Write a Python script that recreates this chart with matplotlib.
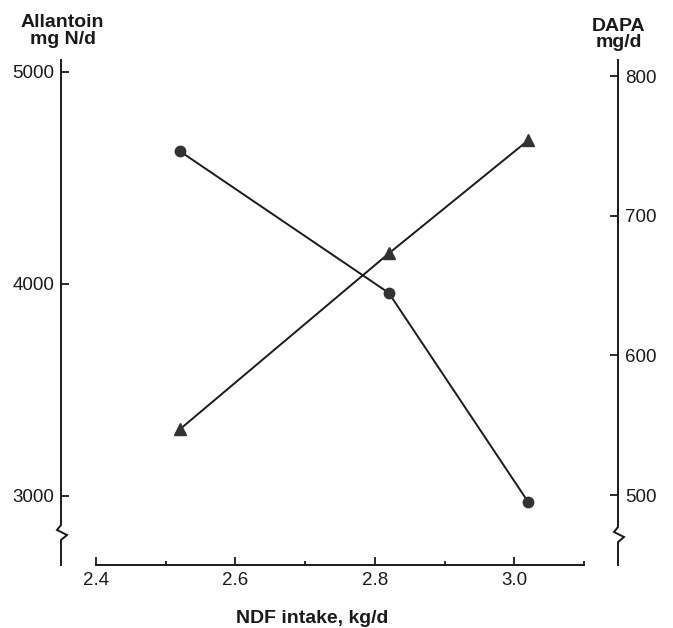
import numpy as np
import matplotlib.pyplot as plt

plt.rcParams['font.family'] = ['Liberation Sans', 'DejaVu Sans']

# data
ndf = [2.52, 2.82, 3.02]
allantoin = [4627, 3958, 2972]      # mg N/d, circles, left axis
dapa_x = [2.52, 2.82, 3.02]
dapa = [547, 673, 754]              # mg/d, triangles, right axis

x_ticks = [2.4, 2.6, 2.8, 3.0]
x_minor = [2.5, 2.7, 2.9]
left_ticks = [3000, 4000, 5000]
right_ticks = [500, 600, 700, 800]

W, H = 673, 628
fig = plt.figure(figsize=(W / 100, H / 100), dpi=100)

# axes box in pixels (from the reference)
x0, x1, y_top, y_bot = 61, 618, 60, 565
ax = fig.add_axes([x0 / W, 1 - y_bot / H, (x1 - x0) / W, (y_bot - y_top) / H])
ax2 = ax.twinx()

ink = '#1a1a1a'
ax.plot(ndf, allantoin, color=ink, lw=1.4, marker='o', ms=7.5,
        mfc='#333333', mec='#333333', clip_on=False, zorder=3)
ax2.plot(dapa_x, dapa, color=ink, lw=1.4, marker='^', ms=9,
         mfc='#333333', mec='#333333', clip_on=False, zorder=3)

ax.set_xlim(2.3498, 3.1489)
ax.set_ylim(2674.5, 5056.6)
ax2.set_ylim(450, 811.5)

for a in (ax, ax2):
    for s in a.spines.values():
        s.set_visible(False)
ax.spines['bottom'].set_visible(True)
ax.spines['bottom'].set_bounds(2.4, 3.1)
ax.spines['bottom'].set_linewidth(1.4)
ax.spines['bottom'].set_color(ink)

ax.set_xticks(x_ticks)
ax.set_xticklabels(['2.4', '2.6', '2.8', '3.0'])
ax.set_xticks(x_minor + [3.1], minor=True)
ax.tick_params(axis='x', which='major', direction='in', length=6, width=1.3,
               labelsize=13.5, pad=5, colors=ink)
ax.tick_params(axis='x', which='minor', direction='in', length=3, width=1.3, colors=ink)

ax.set_yticks(left_ticks)
ax.tick_params(axis='y', direction='in', length=6, width=1.3, labelsize=13.5,
               pad=5, colors=ink)
ax2.set_yticks(right_ticks)
ax2.tick_params(axis='y', direction='in', length=6, width=1.3, labelsize=13.5,
                pad=5, colors=ink)

# vertical axes with a break mark drawn by hand
aw, ah = x1 - x0, y_bot - y_top
zig = [(0, 8), (-4, 3), (6, -2), (0, -7)]


def broken_axis(xf, brk_px):
    yb = (y_bot - brk_px) / ah
    pts = [(xf, 1.0)] + [(xf + dx / aw, yb + dy / ah) for dx, dy in zig] + [(xf, 0.0)]
    xs, ys = zip(*pts)
    ax.plot(xs, ys, transform=ax.transAxes, color=ink, lw=1.4,
            clip_on=False, solid_joinstyle='miter')


broken_axis(0.0, 533)
broken_axis(1.0, 535)

# axis titles
bold = dict(fontsize=14, fontweight='bold', color=ink, ha='center', va='baseline')
fig.text(62 / W, 1 - 27 / H, 'Allantoin', **bold)
fig.text(63 / W, 1 - 44 / H, 'mg N/d', **bold)
fig.text(619 / W, 1 - 31 / H, 'DAPA', **bold)
fig.text(619 / W, 1 - 47 / H, 'mg/d', **bold)
fig.text(312 / W, 1 - 623 / H, 'NDF intake, kg/d', **bold)

fig.savefig('out.png', dpi=100)
